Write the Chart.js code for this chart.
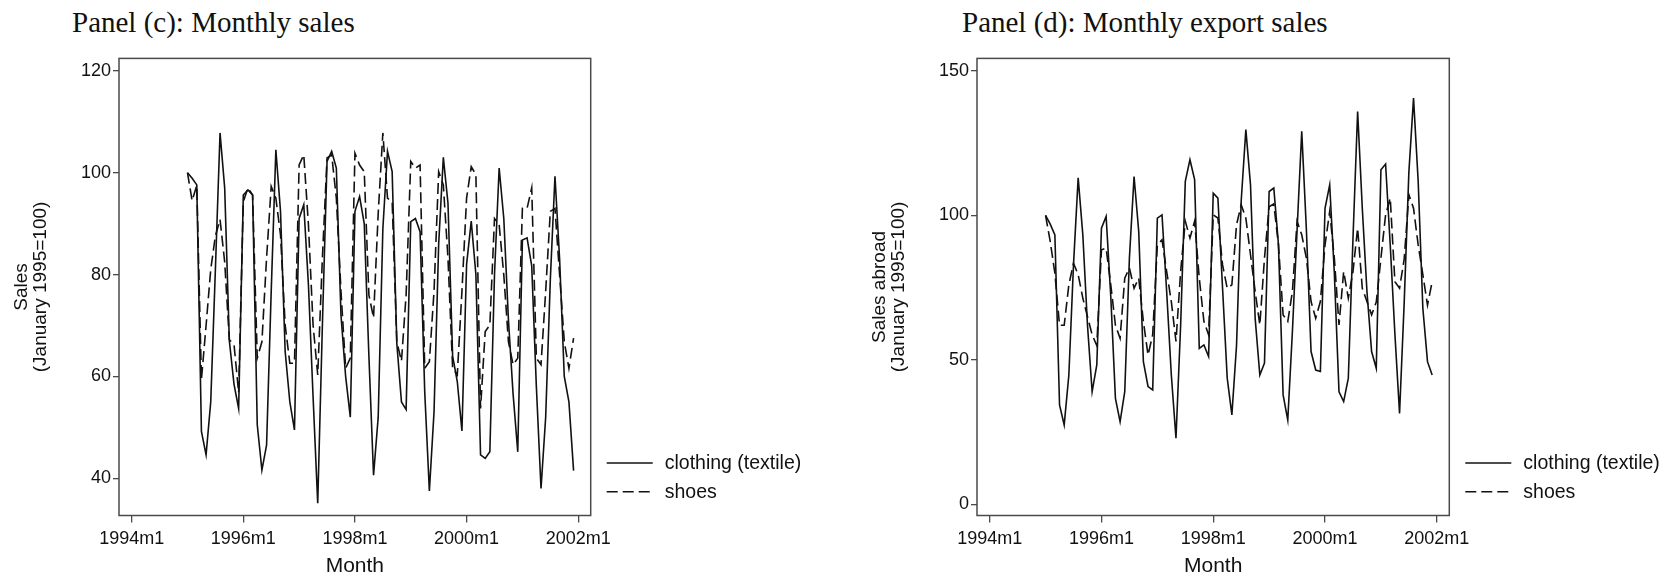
<!DOCTYPE html>
<html>
<head>
<meta charset="utf-8">
<script src="https://cdn.jsdelivr.net/npm/chart.js@4.4.1/dist/chart.umd.min.js"></script>
<style>
  html, body { margin: 0; padding: 0; background: #fff; }
  #wrap { position: relative; width: 1668px; height: 581px; overflow: hidden; background: #fff; }
  .panel { position: absolute; top: 0; width: 834px; height: 581px; }
  .ptitle { position: absolute; top: 8px; font-family: "Liberation Serif", "Times New Roman", serif; font-size: 29px; line-height: 28px; color: #111; white-space: nowrap; }
</style>
</head>
<body>
<div id="wrap">
  <div class="ptitle" style="left:72px">Panel (c): Monthly sales</div>
  <div class="ptitle" style="left:962px">Panel (d): Monthly export sales</div>
  <div class="panel" style="left:0"><canvas id="chartC" width="834" height="581"></canvas></div>
  <div class="panel" style="left:834px"><canvas id="chartD" width="834" height="581"></canvas></div>
</div>
<script>
// months 1995m1 .. 2001m12
const months = [];
for (let yr = 1995; yr <= 2001; yr++) {
  for (let mo = 1; mo <= 12; mo++) months.push(yr + 'm' + mo);
}

// x axis ticks (months since 1994m1)
const xTickMonths = [0, 24, 48, 72, 96];
const xTickLabels = ['1994m1', '1996m1', '1998m1', '2000m1', '2002m1'];

// Panel (c): monthly sales, January 1995 = 100
const salesClothing = [
  100, 98.9, 97.6, 49.2, 44.6, 55, 81, 107.8, 97, 67, 58.5, 53.7,
  95.6, 96.6, 95.6, 50.5, 41.6, 46.5, 76.7, 104.5, 92.4, 64.9, 55, 49.5,
  91, 93.7, 78, 56, 35.1, 70, 102.2, 104.2, 100.9, 72, 60, 52,
  92.4, 95.3, 90, 64, 40.6, 52, 89, 104.2, 100.2, 66.5, 55, 53.5,
  90.4, 91, 88.4, 57, 37.5, 53, 86, 103, 94, 64, 59, 49.3,
  82, 90.5, 80, 44.6, 43.9, 45.2, 80, 100.9, 91, 71, 56.5, 45.2,
  86.8, 87.2, 81.7, 58, 38, 52, 79, 99.3, 83, 60, 55, 41.5
];
const salesShoes = [
  100, 94.5, 97.5, 59.4, 70, 81, 87.6, 90.8, 82.5, 67.2, 66.3, 56.8,
  94.3, 97, 95.6, 63.6, 66.8, 83.2, 97.3, 95, 87.8, 70.1, 62.6, 62.6,
  101.5, 103.5, 89.8, 70.1, 60.3, 83.2, 102.9, 103.5, 95, 76.7, 61.6, 63.6,
  103.8, 101.5, 100.2, 76, 71.5, 92, 107.8, 95, 94.3, 66.8, 63, 76,
  102.2, 100.9, 101.5, 61.6, 62.9, 76.7, 100.2, 97.6, 83.2, 61.6, 60.3, 76.7,
  95, 101.2, 99.6, 53.7, 68.8, 70.1, 91, 89.8, 79.9, 66.8, 62.3, 63.6,
  93, 93, 97, 63.6, 62.3, 76.7, 92.4, 93, 79.9, 66.8, 61.6, 67.5
];
const salesTicks = [40, 60, 80, 100, 120];

// Panel (d): monthly export sales, January 1995 = 100
const exportClothing = [
  100, 97, 93.3, 34.4, 27.5, 44.8, 83, 113, 93.3, 62, 39, 48.3,
  95.6, 99.7, 72, 36.7, 28.6, 39, 85.2, 113.5, 94.5, 49.4, 40.8, 39.6,
  99.1, 100.2, 73.7, 44.8, 22.9, 62, 111.8, 119.3, 112.4, 54, 55.2, 51.2,
  107.7, 106, 74.8, 43.7, 31, 55, 105, 129.7, 110.6, 64.4, 44.8, 48.9,
  108.3, 109.5, 90, 37.9, 29.2, 60, 95, 129.1, 95, 52.9, 46.5, 46,
  102.5, 110.6, 80, 39, 35.6, 43.7, 92, 136, 102.5, 73.7, 52.9, 47.1,
  115.8, 117.8, 89.8, 59, 31.5, 70, 115, 140.6, 111.8, 67.9, 49.4, 44.8
];
const exportShoes = [
  100, 91, 80, 62, 62, 76, 83.5, 79.5, 71.4, 65, 58.7, 55,
  88.1, 88.7, 76, 62, 57.5, 78.3, 81.8, 74.8, 78.3, 63.3, 51.7, 58.7,
  89.8, 91.6, 80.6, 70.2, 56.4, 80.6, 98, 92.2, 98, 78.3, 63.3, 58.7,
  100.2, 99.1, 82.9, 74.8, 76, 96.8, 103.7, 99.1, 86.4, 73.7, 62.1, 85.2,
  103, 104, 89.8, 65.6, 63.3, 73.7, 98, 93.3, 85.2, 70.2, 64.4, 70.2,
  89.8, 101.4, 85.2, 62.1, 80.6, 71.4, 80.6, 95.6, 74.8, 70.2, 65.6, 70,
  85.2, 100.2, 106, 77.1, 74.8, 85, 107.2, 102.5, 89.8, 79.5, 69, 77.1
];
const exportTicks = [0, 50, 100, 150];

const lineColor = '#111';
const frameColor = '#4a4a4a';
const textColor = '#111';
const sansFont = '"Liberation Sans", Arial, Helvetica, sans-serif';

// month label like '1995m3' -> months since 1994m1
function monthIndex(label) {
  const parts = label.split('m');
  return (parseInt(parts[0]) - 1994) * 12 + parseInt(parts[1]) - 1;
}

function toPoints(values) {
  return values.map((v, i) => ({ x: monthIndex(months[i]), y: v }));
}

// full box around the plot region
const framePlugin = {
  id: 'frame',
  afterDatasetsDraw(chart) {
    const { ctx, chartArea } = chart;
    ctx.save();
    ctx.strokeStyle = frameColor;
    ctx.lineWidth = 1.5;
    ctx.strokeRect(chartArea.left, chartArea.top, chartArea.right - chartArea.left, chartArea.bottom - chartArea.top);
    ctx.restore();
  }
};

// legend drawn to the right of the plot, near the bottom
const sideLegend = {
  id: 'sideLegend',
  afterDraw(chart, args, opts) {
    const { ctx, chartArea } = chart;
    chart.data.datasets.forEach((ds, i) => {
      const y = opts.top + i * opts.rowGap;
      const x0 = chartArea.right + opts.offset;
      ctx.save();
      ctx.strokeStyle = ds.borderColor;
      ctx.lineWidth = ds.borderWidth;
      ctx.setLineDash(ds.borderDash || []);
      ctx.beginPath();
      ctx.moveTo(x0, y);
      ctx.lineTo(x0 + opts.sample, y);
      ctx.stroke();
      ctx.setLineDash([]);
      ctx.fillStyle = textColor;
      ctx.font = opts.fontSize + 'px ' + sansFont;
      ctx.textBaseline = 'middle';
      ctx.fillText(ds.label, x0 + opts.sample + opts.gap, y + 1);
      ctx.restore();
    });
  }
};

function makeChart(id, cfg) {
  const ctx = document.getElementById(id).getContext('2d');
  return new Chart(ctx, {
    type: 'line',
    data: {
      datasets: [
        {
          label: 'clothing (textile)',
          data: toPoints(cfg.clothing),
          borderColor: lineColor,
          borderWidth: 1.6,
          pointRadius: 0,
          tension: 0
        },
        {
          label: 'shoes',
          data: toPoints(cfg.shoes),
          borderColor: lineColor,
          borderWidth: 1.6,
          borderDash: [11, 5],
          pointRadius: 0,
          tension: 0
        }
      ]
    },
    options: {
      responsive: false,
      animation: false,
      layout: {
        padding: { left: 0, top: 58.4, right: cfg.rightPad, bottom: 0 }
      },
      plugins: {
        legend: { display: false },
        tooltip: { enabled: false },
        sideLegend: { top: 463, rowGap: 28.7, offset: 16, sample: 46, gap: 12, fontSize: 19.5 }
      },
      scales: {
        x: {
          type: 'linear',
          min: -2.72,
          max: 98.68,
          afterBuildTicks: (s) => { s.ticks = xTickMonths.map(v => ({ value: v })); },
          afterFit: (s) => {
            s.height = 65.5;
            s.paddingLeft = 0; s.paddingRight = 0;
          },
          ticks: {
            autoSkip: false,
            maxRotation: 0,
            padding: 6,
            color: textColor,
            font: { family: sansFont, size: 18 },
            callback: (v, i) => xTickLabels[i]
          },
          grid: { drawOnChartArea: false, drawTicks: true, tickLength: 7, color: frameColor, lineWidth: 1.3 },
          border: { display: false },
          title: {
            display: true,
            text: 'Month',
            color: textColor,
            font: { family: sansFont, size: 21 },
            padding: { top: 0, bottom: 2 }
          }
        },
        y: {
          min: cfg.yMin,
          max: cfg.yMax,
          afterBuildTicks: (s) => { s.ticks = cfg.yTicks.map(v => ({ value: v })); },
          afterFit: (s) => {
            s.width = cfg.yAxisWidth;
            s.paddingTop = 0; s.paddingBottom = 0;
          },
          ticks: {
            padding: 2,
            color: textColor,
            font: { family: sansFont, size: 18 }
          },
          grid: { drawOnChartArea: false, drawTicks: true, tickLength: 6, color: frameColor, lineWidth: 1.3 },
          border: { display: false },
          title: {
            display: true,
            text: cfg.yTitle,
            color: textColor,
            font: { family: sansFont, size: 19, lineHeight: 1.0 },
            padding: { top: cfg.yTitlePad, bottom: 0 }
          }
        }
      }
    },
    plugins: [framePlugin, sideLegend]
  });
}

makeChart('chartC', {
  clothing: salesClothing,
  shoes: salesShoes,
  yTicks: salesTicks,
  yMin: 32.7,
  yMax: 122.43,
  yAxisWidth: 119,
  rightPad: 243.3,
  yTitle: ['Sales', '(January 1995=100)'],
  yTitlePad: 12
});

makeChart('chartD', {
  clothing: exportClothing,
  shoes: exportShoes,
  yTicks: exportTicks,
  yMin: -3.84,
  yMax: 154.36,
  yAxisWidth: 143,
  rightPad: 218.7,
  yTitle: ['Sales abroad', '(January 1995=100)'],
  yTitlePad: 36.5
});
</script>
</body>
</html>
